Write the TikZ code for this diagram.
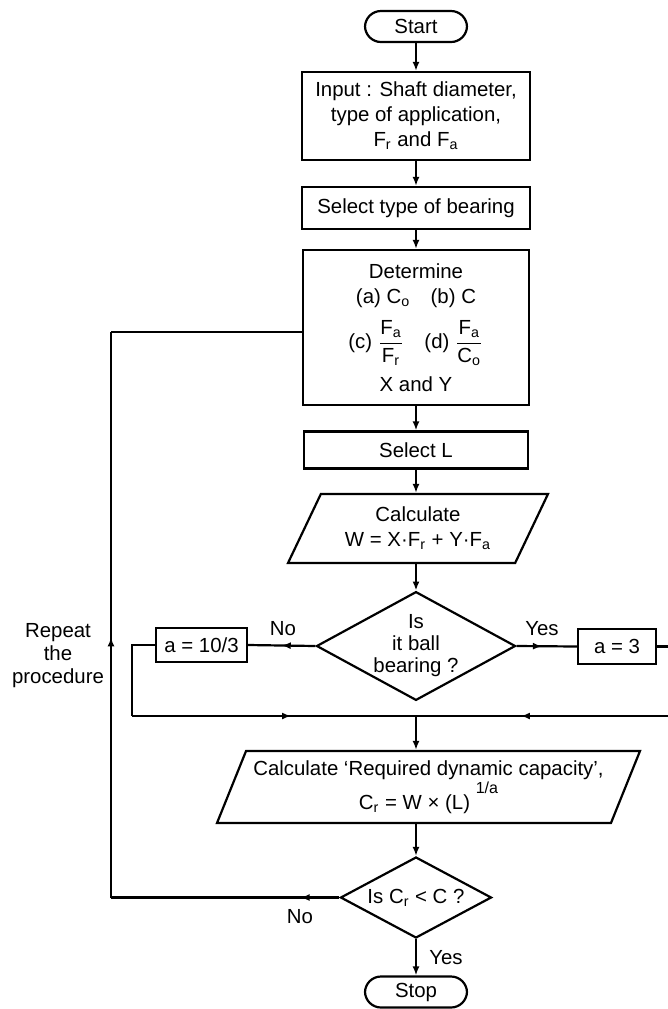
\documentclass[tikz,border=0pt]{standalone}
\usepackage{fontspec}
\setmainfont{Liberation Sans}
\usetikzlibrary{arrows.meta, shapes.geometric, decorations.markings}

\begin{document}
\begin{tikzpicture}[x=0.5pt, y=-0.5pt, line width=1.1pt,
    font=\fontsize{10.2}{12.5}\selectfont,
    box/.style={draw, rectangle, align=center, inner sep=2pt},
    term/.style={draw, rectangle, rounded corners=8pt, minimum width=51pt, minimum height=15.5pt, inner sep=1pt},
    io/.style={draw, trapezium, trapezium left angle=#1, trapezium right angle=180-#1,
      trapezium stretches body, align=center, inner sep=1pt},
    dec/.style={draw, diamond, align=center, inner sep=0pt, font=\fontsize{10.2}{11}\selectfont},
    arr/.style={-{Latex[length=4.5pt,width=3.5pt]}},
    midarr/.style={postaction={decorate}, decoration={markings,
      mark=at position #1 with {\arrow{Latex[length=4.5pt,width=3.5pt]}}}}]
  \useasboundingbox (0,0) rectangle (668,1009);

  \node[term] (start) at (416,26.5) {Start};
  \node[box, minimum width=114pt, minimum height=44pt] (input) at (416,116)
    {Input : Shaft diameter,\\ type of application,\\ F\textsubscript{r} and F\textsubscript{a}};
  \node[box, minimum width=114pt, minimum height=21pt] (seltype) at (416,208) {Select type of bearing};
  \node[box, minimum width=113pt, minimum height=77.5pt] (determine) at (416,327.5)
    {Determine\\ (a) C\textsubscript{o}\quad (b) C\\[5.5pt]
     (c) $\displaystyle\frac{\mbox{F\textsubscript{a}}}{\mbox{F\textsubscript{r}}}$\quad
     (d) $\displaystyle\frac{\mbox{F\textsubscript{a}}}{\mbox{C\textsubscript{o}}}$\\[4.5pt] X and Y};
  \node[box, minimum width=112pt, minimum height=18.5pt] (selL) at (416,450) {Select L};
  \node[io=55, minimum width=130pt, minimum height=34.5pt] (calcW) at (418,528.5)
    {Calculate\\ W = X·F\textsubscript{r} + Y·F\textsubscript{a}};
  \node[dec, aspect=1.83, minimum width=97pt, minimum height=53pt] (ball) at (416,646)
    {Is\\ it ball\\ bearing ?};
  \node[box, minimum width=45.5pt, minimum height=17pt] (aroll) at (201.5,645) {a = 10/3};
  \node[box, minimum width=39pt, minimum height=17.5pt] (aball) at (617,646.5) {a = 3};
  \node[io=63, minimum width=211.5pt, minimum height=36pt] (calcC) at (428.5,787)
    {Calculate `Required dynamic capacity',\\
     C\textsubscript{r} = W × (L)\;\raisebox{1.5ex}{\footnotesize 1/a}};
  \node[dec, aspect=1.86, minimum width=75.5pt, minimum height=40.5pt] (check) at (416,897.5)
    {Is C\textsubscript{r} < C ?};
  \node[term] (stop) at (416,992) {Stop};

  \node (nol) at (283,629) {No};
  \node (yesr) at (542,629) {Yes};
  \node (nob) at (300,917) {No};
  \node (yesb) at (446,958) {Yes};
  \node[align=center, font=\fontsize{10.2}{11.5}\selectfont] (repeat) at (58,656) {Repeat\\the\\procedure};

  \coordinate (mergeL) at (132,716);
  \coordinate (merge) at (416,716);
  \coordinate (mergeR) at (672,716);
  \coordinate (loopB) at (111,897.5);
  \coordinate (loopT) at (111,332);

  \draw[arr] (start) -- (input);
  \draw[arr] (input) -- (seltype);
  \draw[arr] (seltype) -- (determine);
  \draw[arr] (determine) -- (selL);
  \draw[arr] (selL.south) -- (selL.south |- calcW.north);
  \draw[arr] (calcW.south -| ball.north) -- (ball.north);
  \draw[midarr=0.5] (ball.west) -- (aroll.east);
  \draw[midarr=0.42] (ball.east) -- (aball.west);
  \draw (aroll.west) -| (mergeL);
  \draw[midarr=0.56] (mergeL) -- (merge);
  \draw (aball.east) -| (mergeR);
  \draw[midarr=0.59] (mergeR) -- (merge);
  \draw[arr] (merge) -- (merge |- calcC.north);
  \draw[arr] (calcC.south -| check.north) -- (check.north);
  \draw[arr] (check) -- (stop);
  \draw[midarr=0.17] (check.west) -- (loopB);
  \draw[midarr=0.46] (loopB) -- (loopT);
  \draw (loopT) -- (loopT -| determine.west);
\end{tikzpicture}
\end{document}
